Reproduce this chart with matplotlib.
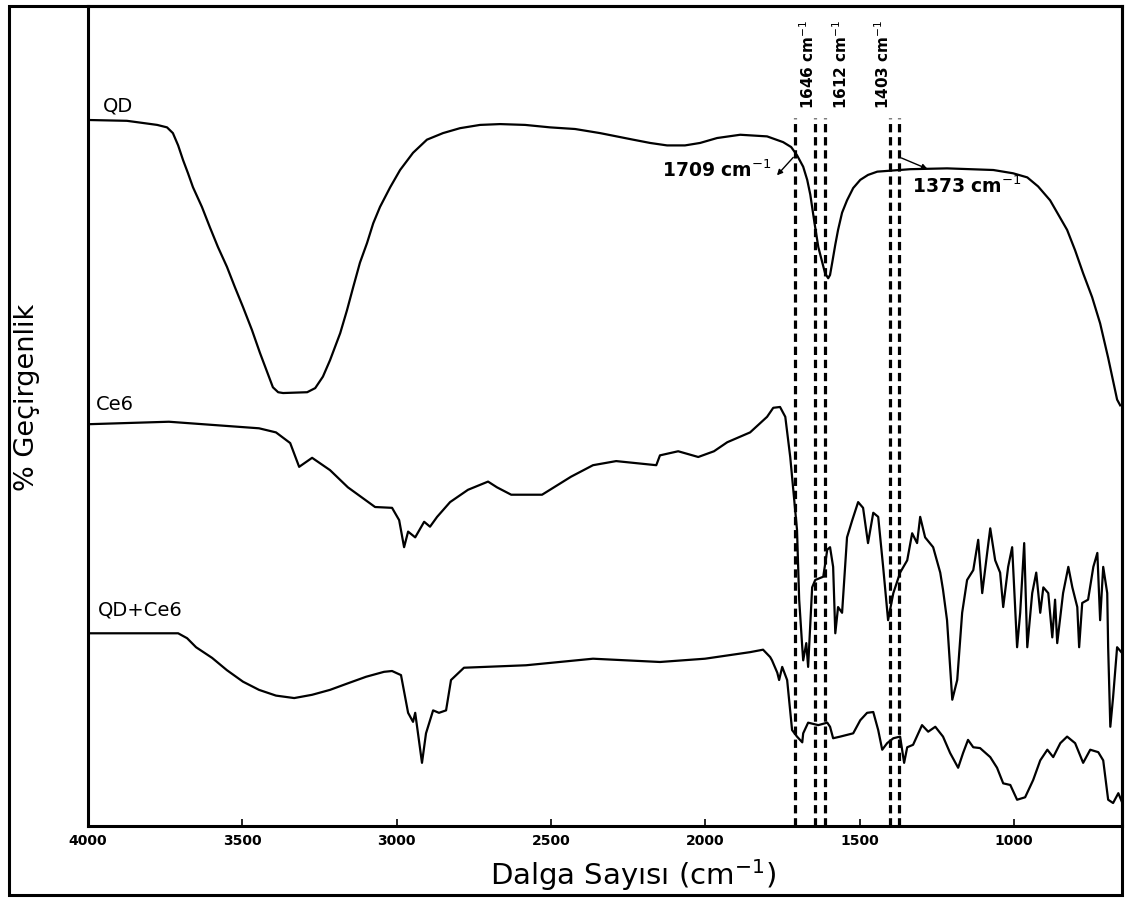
import matplotlib
matplotlib.use("Agg")
import matplotlib.pyplot as plt
from matplotlib.patches import Rectangle

# wavenumber (cm-1) / stacked transmittance (a.u.) for each spectrum
qd_wn = [4000, 3874, 3815, 3776, 3744, 3725, 3708, 3692, 3676, 3660, 3631, 3605,
         3579, 3550, 3524, 3498, 3469, 3443, 3420, 3401, 3384, 3368, 3290, 3264,
         3239, 3216, 3183, 3161, 3141, 3119, 3096, 3076, 3054, 3021, 2989, 2947,
         2902, 2850, 2795, 2730, 2665, 2584, 2503, 2422, 2341, 2234, 2179, 2124,
         2066, 2017, 1962, 1887, 1800, 1748, 1722, 1703, 1683, 1670, 1660, 1647,
         1634, 1621, 1612, 1602, 1596, 1589, 1579, 1570, 1557, 1541, 1521, 1498,
         1473, 1443, 1336, 1217, 1067, 1003, 957, 922, 883, 857, 828, 802, 776,
         747, 721, 695, 666, 656]
qd_t = [86.1, 86.0, 85.7, 85.5, 85.2, 84.5, 83.0, 81.2, 79.6, 77.9, 75.5, 73.0,
        70.6, 68.2, 65.7, 63.3, 60.5, 57.7, 55.4, 53.5, 52.9, 52.8, 52.9, 53.4,
        54.8, 56.8, 60.1, 62.9, 65.7, 68.7, 71.1, 73.5, 75.5, 77.9, 80.0, 82.1,
        83.7, 84.5, 85.1, 85.5, 85.6, 85.5, 85.2, 85.0, 84.5, 83.7, 83.3, 83.0,
        83.0, 83.3, 83.9, 84.3, 84.1, 83.4, 82.8, 81.8, 80.4, 78.8, 77.0, 73.7,
        70.6, 68.7, 67.4, 66.8, 67.2, 68.7, 70.9, 72.7, 74.8, 76.3, 77.8, 78.8,
        79.4, 79.8, 80.1, 80.2, 80.0, 79.6, 79.1, 78.0, 76.3, 74.6, 72.7, 70.2,
        67.4, 64.5, 61.3, 57.1, 52.0, 51.3]

ce6_wn = [3997, 3738, 3446, 3391, 3345, 3316, 3274, 3216, 3158, 3070, 3015, 2992,
          2976, 2963, 2940, 2911, 2892, 2869, 2827, 2769, 2704, 2675, 2629, 2529,
          2435, 2364, 2289, 2159, 2147, 2088, 2023, 1972, 1929, 1855, 1800, 1780,
          1758, 1741, 1725, 1703, 1696, 1686, 1683, 1673, 1667, 1654, 1644, 1618,
          1605, 1596, 1586, 1579, 1570, 1557, 1541, 1524, 1505, 1489, 1473, 1456,
          1440, 1424, 1408, 1391, 1369, 1346, 1330, 1314, 1304, 1288, 1262, 1239,
          1230, 1217, 1200, 1184, 1168, 1152, 1132, 1116, 1103, 1087, 1077, 1061,
          1045, 1035, 1019, 1006, 990, 980, 967, 957, 941, 928, 915, 905, 889, 876,
          867, 860, 841, 824, 811, 795, 789, 779, 760, 743, 730, 721, 711, 698, 695,
          688, 679, 666, 650]
ce6_t = [49.0, 49.3, 48.5, 48.0, 46.7, 43.8, 44.9, 43.4, 41.3, 38.9, 38.8, 37.3,
         34.0, 35.9, 35.2, 37.1, 36.5, 37.7, 39.5, 41.0, 42.0, 41.3, 40.4, 40.4,
         42.6, 44.0, 44.5, 44.0, 45.2, 45.7, 45.0, 45.7, 46.8, 48.0, 49.9, 51.0,
         51.1, 49.9, 45.0, 36.1, 27.6, 21.8, 20.2, 22.3, 19.4, 29.1, 30.0, 30.4,
         33.7, 34.0, 31.6, 23.5, 26.7, 26.0, 35.2, 37.3, 39.5, 38.8, 34.5, 38.2,
         37.7, 31.6, 25.1, 28.4, 30.9, 32.4, 35.7, 34.5, 37.7, 35.2, 34.0, 30.9,
         28.8, 25.1, 15.4, 17.8, 26.0, 30.0, 31.2, 34.9, 28.4, 33.3, 36.3, 32.4,
         30.9, 26.7, 31.6, 34.0, 21.8, 26.0, 34.5, 21.8, 28.4, 30.9, 26.0, 29.1,
         28.4, 23.0, 27.6, 22.3, 28.4, 31.6, 29.1, 26.7, 21.8, 27.2, 27.6, 31.6,
         33.3, 25.1, 31.6, 28.4, 21.8, 12.1, 15.7, 21.8, 21.1]

mix_wn = [3997, 3708, 3679, 3650, 3598, 3550, 3498, 3446, 3391, 3332, 3274, 3216,
          3158, 3099, 3041, 3015, 2986, 2963, 2947, 2940, 2918, 2905, 2882, 2863,
          2840, 2824, 2782, 2581, 2364, 2147, 2001, 1855, 1813, 1790, 1784, 1767,
          1761, 1751, 1735, 1719, 1703, 1686, 1683, 1667, 1634, 1605, 1596, 1586,
          1563, 1521, 1498, 1476, 1456, 1440, 1427, 1411, 1391, 1369, 1356, 1346,
          1327, 1298, 1278, 1255, 1230, 1207, 1181, 1165, 1149, 1132, 1110, 1077,
          1055, 1035, 1012, 990, 964, 938, 915, 892, 873, 850, 828, 802, 776, 753,
          727, 711, 695, 679, 662, 650]
mix_t = [23.5, 23.5, 22.9, 21.8, 20.5, 19.0, 17.6, 16.6, 15.9, 15.6, 16.0, 16.6,
         17.4, 18.2, 18.8, 18.9, 18.4, 13.8, 12.7, 13.8, 7.7, 11.3, 14.1, 13.8,
         14.1, 17.8, 19.3, 19.6, 20.4, 20.0, 20.4, 21.2, 21.5, 20.6, 20.2, 18.7,
         17.8, 19.4, 17.8, 11.7, 10.9, 10.2, 11.3, 12.6, 12.3, 12.6, 12.1, 10.7,
         10.9, 11.3, 12.9, 13.8, 13.9, 11.7, 9.3, 10.1, 10.7, 10.9, 7.7, 9.6,
         9.9, 12.3, 11.5, 12.1, 10.9, 8.9, 7.1, 8.9, 10.5, 9.6, 9.5, 8.4,
         7.1, 5.2, 5.0, 3.2, 3.5, 5.6, 8.0, 9.3, 8.4, 10.1, 10.9, 10.1, 7.7, 9.3,
         9.0, 8.0, 3.2, 2.8, 4.0, 2.9]

# marked bands
band_wn = [1709, 1646, 1612, 1403, 1373]
ticks = [4000, 3500, 3000, 2500, 2000, 1500, 1000]

fig = plt.figure(figsize=(11.27, 8.98), dpi=100)
ax = fig.add_axes([0.0781, 0.0802, 0.9175, 0.9131])

for wn, t in [(qd_wn, qd_t), (ce6_wn, ce6_t), (mix_wn, mix_t)]:
    ax.plot(wn, t, color="black", lw=1.6, solid_joinstyle="round")

for b in band_wn:
    ax.plot([b, b], [0, 86.4], color="black", lw=2.3, linestyle=(0, (2.6, 1.5)))

ax.set_xlim(4000, 650)
ax.set_ylim(0, 100)
ax.set_xticks(ticks)
ax.set_xticklabels([str(t) for t in ticks], fontsize=10, fontweight="bold")
ax.set_yticks([])
ax.tick_params(axis="x", direction="in", length=5, width=1.2, pad=5.5)
for s in ax.spines.values():
    s.set_linewidth(2.2)

# spectrum names
ax.text(3951, 87.1, "QD", fontsize=14, va="baseline")
ax.text(3974, 50.7, "Ce6", fontsize=14, va="baseline")
ax.text(3968, 25.7, "QD+Ce6", fontsize=14, va="baseline")

# band labels
narrow = ["Liberation Sans Narrow", "DejaVu Sans"]
for x, s in [(1670, "1646 cm$^{-1}$"), (1563, "1612 cm$^{-1}$"), (1424, "1403 cm$^{-1}$")]:
    ax.text(x, 87.5, s, rotation=90, ha="center", va="bottom", fontsize=11,
            fontweight="bold", family=narrow)

ax.annotate("", xy=(1774, 79.1), xytext=(1709, 81.8),
            arrowprops=dict(arrowstyle="-|>", color="black", lw=1, mutation_scale=8))
ax.text(1784, 80.0, "1709 cm$^{-1}$", ha="right", va="center", fontsize=13.5,
        fontweight="bold")
ax.annotate("", xy=(1272, 80.0), xytext=(1373, 81.6),
            arrowprops=dict(arrowstyle="-|>", color="black", lw=1, mutation_scale=8))
ax.text(1330, 78.0, "1373 cm$^{-1}$", ha="left", va="center", fontsize=13.5,
        fontweight="bold")

fig.text(0.024, 0.557, "% Geçirgenlik", rotation=90, ha="center", va="center",
         fontsize=19.5, family="DejaVu Sans")
fig.text(0.5617, 0.026, "Dalga Sayısı (cm$^{-1}$)", ha="center", va="center",
         fontsize=21, family="DejaVu Sans")

fig.patches.append(Rectangle((0.008, 0.0033), 0.988, 0.99, transform=fig.transFigure,
                             fill=False, lw=2.2, color="black"))

fig.savefig("out.png", dpi=100)
